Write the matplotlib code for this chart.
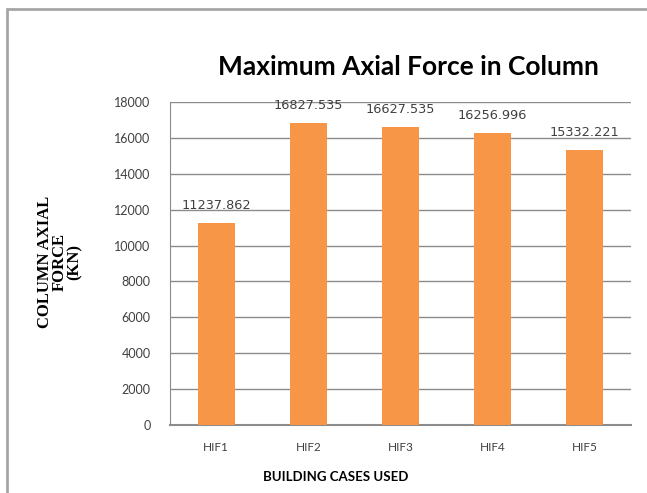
import matplotlib
matplotlib.use('Agg')

import matplotlib.pyplot as plt
from matplotlib.patches import Rectangle

cases = ["HIF1", "HIF2", "HIF3", "HIF4", "HIF5"]
axial_force = [11237.862, 16827.535, 16627.535, 16256.996, 15332.221]
y_ticks = list(range(0, 18001, 2000))

BAR_COLOR = "#F79646"
GRID_COLOR = "#8C8C8C"

fig = plt.figure(figsize=(6.47, 4.93), dpi=100)
ax = fig.add_axes([0.263, 0.138, 0.712, 0.655])

# outer frame of the chart area
fig.patches.append(Rectangle((7 / 647, -0.05), 1.2, 1 - 9 / 493 + 0.05,
                             transform=fig.transFigure, fill=False,
                             edgecolor="#A6A6A6", linewidth=2))

x = list(range(len(cases)))
ax.bar(x, axial_force, width=0.4, color=BAR_COLOR, zorder=3)

for xi, v in zip(x, axial_force):
    ax.annotate(f"{v:.3f}", (xi, v), xytext=(0, 8), textcoords="offset points",
                ha="center", va="bottom", fontsize=9.3, color="#404040",
                family="DejaVu Sans")

ax.set_xlim(-0.5, len(cases) - 0.5)
ax.set_ylim(0, 18000)
ax.set_yticks(y_ticks)
ax.set_xticks(x)
ax.set_xticklabels(cases, family="Lato", fontsize=8.5, color="#404040")
ax.set_yticklabels([str(t) for t in y_ticks], family="Lato", fontsize=9, color="#404040")
ax.tick_params(axis="x", length=0, pad=12)
ax.tick_params(axis="y", length=0, pad=14)

ax.grid(axis="y", color=GRID_COLOR, linewidth=1, zorder=0)
for s in ["top", "right"]:
    ax.spines[s].set_visible(False)
ax.spines["left"].set_color(GRID_COLOR)
ax.spines["bottom"].set_color(GRID_COLOR)
ax.spines["bottom"].set_linewidth(1.5)

fig.text(408 / 647, 1 - 67 / 493, "Maximum Axial Force in Column", ha="center",
         va="center", fontsize=19, fontweight="bold", family="Lato")
fig.text(336 / 647, 1 - 477 / 493, "BUILDING CASES USED", ha="center", va="center",
         fontsize=9.5, fontweight="bold", family="Lato")
fig.text(60 / 647, 1 - 262 / 493, "COLUMN AXIAL\nFORCE\n(KN)", ha="center",
         va="center", rotation=90, fontsize=12, fontweight="bold",
         family="Liberation Serif", linespacing=0.9)

fig.savefig("out.png", dpi=100)
plt.close(fig)
